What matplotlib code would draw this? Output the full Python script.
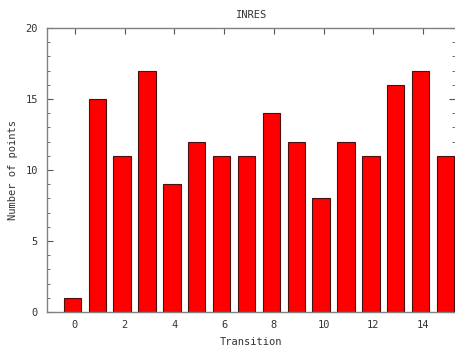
import matplotlib
matplotlib.use("Agg")
import matplotlib.pyplot as plt
import numpy as np
from matplotlib.ticker import MultipleLocator

transitions = list(range(16))
points = [1, 15, 11, 17, 9, 12, 11, 11, 14, 12, 8, 12, 11, 16, 17, 11]
xticks = [0, 2, 4, 6, 8, 10, 12, 14]
yticks = [0, 5, 10, 15, 20]

plt.rcParams['font.family'] = ['DejaVu Sans Mono']
W, H = 456, 349
fig = plt.figure(figsize=(W / 100, H / 100), dpi=100)
ax = fig.add_axes([47.5 / W, (H - 312) / H, (455.5 - 47.5) / W, (312 - 28) / H])

x = np.array(transitions) - 0.1
ax.bar(x, points, width=0.7, color='#ff0000', edgecolor='#4a1010', linewidth=0.8, zorder=2)

ax.set_xlim(-1.1, 15.3)
ax.set_ylim(0, 20)
ax.set_xticks(xticks)
ax.set_yticks(yticks)
ax.yaxis.set_minor_locator(MultipleLocator(1))
ax.tick_params(axis='both', which='both', direction='in', colors='#555555',
               labelcolor='#333333', labelsize=7.5, top=True, right=True)
ax.tick_params(which='major', length=4)
ax.tick_params(which='minor', length=2)
ax.tick_params(axis='x', pad=6)
ax.tick_params(axis='y', pad=7)
for s in ax.spines.values():
    s.set_color('#808080')
    s.set_linewidth(1.0)
ax.spines['right'].set_visible(False)

ax.set_title('INRES', fontsize=7.5, color='#333333', pad=7)
ax.set_xlabel('Transition', fontsize=7.5, color='#333333', labelpad=5)
ax.set_ylabel('Number of points', fontsize=7.5, color='#333333', labelpad=5)

fig.savefig('out.png', dpi=100)
